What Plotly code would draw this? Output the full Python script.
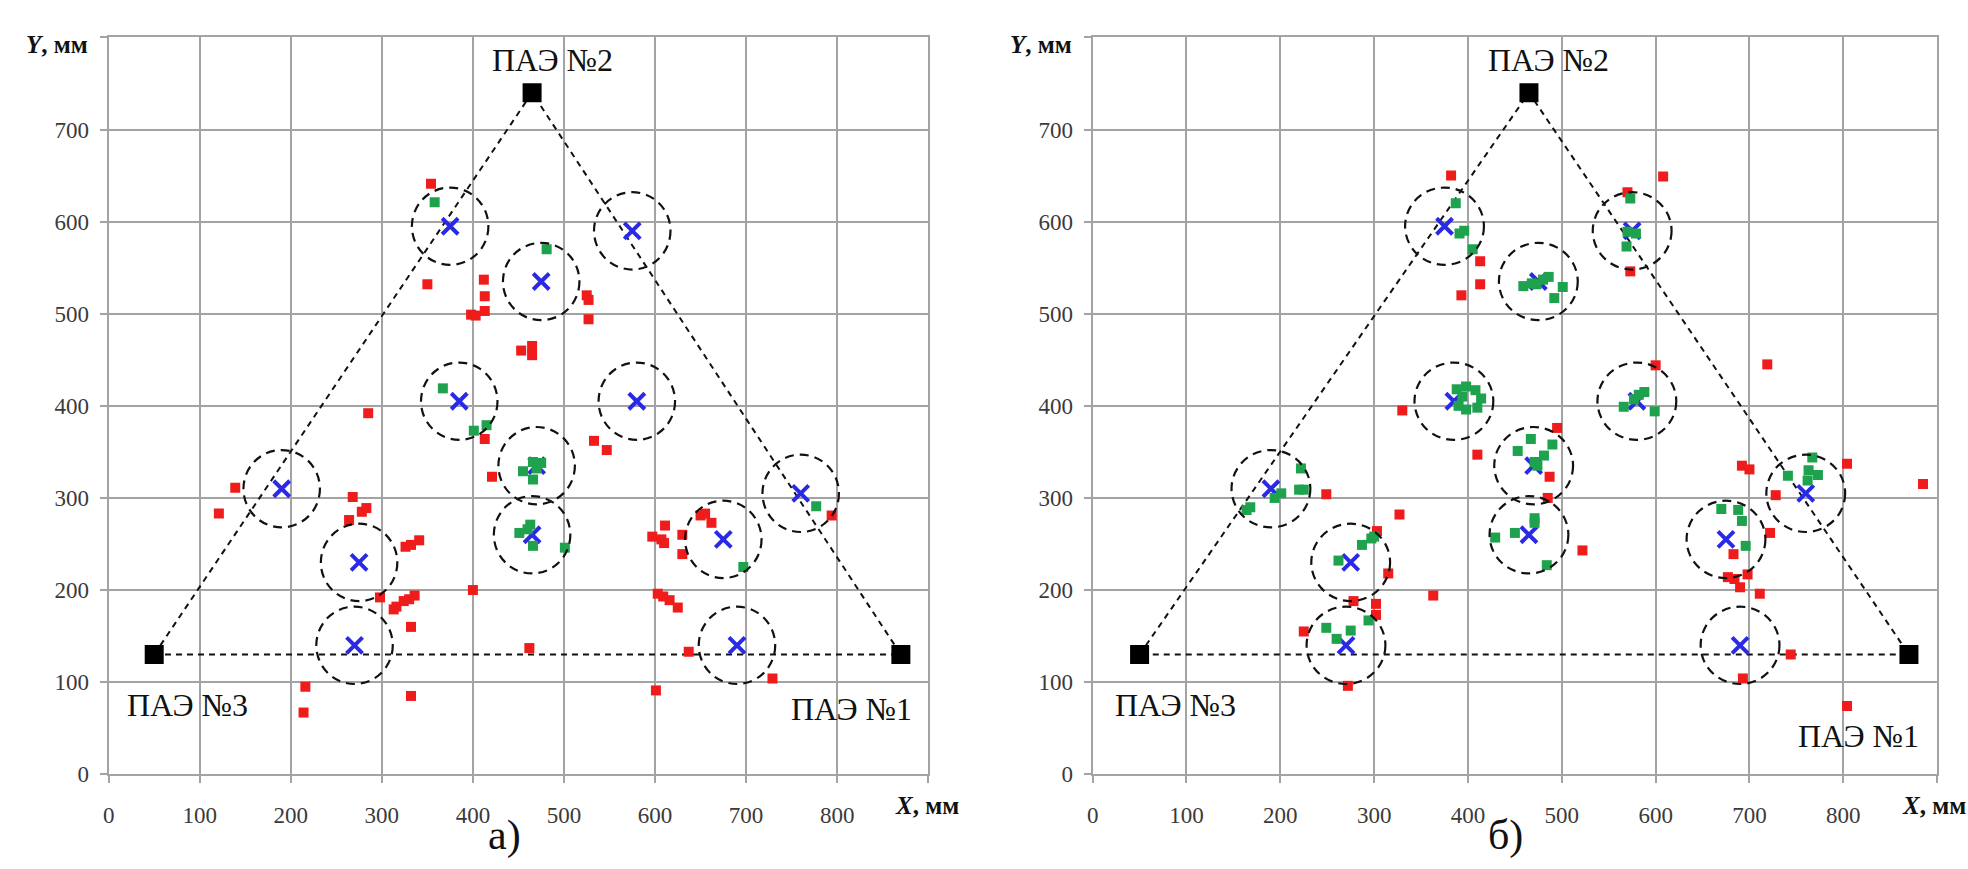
import plotly.graph_objects as go

# ---------------- data ----------------
sensor_x = [870, 465, 50]
sensor_y = [130, 740, 130]
sensor_names = ["ПАЭ №1", "ПАЭ №2", "ПАЭ №3"]

source_x = [375, 475, 575, 385, 580, 190, 275, 270, 470, 465, 675, 760, 690]
source_y = [595, 535, 590, 405, 405, 310, 230, 140, 335, 260, 255, 305, 140]

a_red_x = [354, 350, 412, 413, 398, 403, 413, 285, 413, 525, 527, 527, 453, 465, 465, 533, 547,
           421, 139, 121, 268, 278, 283, 264, 326, 332, 341, 400, 298, 313, 316, 324, 330, 336,
           332, 216, 214, 332, 462, 611, 597, 607, 610, 630, 630, 650, 655, 662, 794, 603, 609,
           616, 625, 637, 601, 729]
a_red_y = [641, 532, 537, 519, 499, 498, 503, 392, 364, 520, 515, 494, 460, 465, 455, 362, 352,
           323, 311, 283, 301, 285, 289, 276, 247, 249, 254, 200, 192, 179, 182, 188, 190, 194,
           160, 95, 67, 85, 137, 270, 258, 255, 251, 260, 239, 281, 283, 273, 281, 196, 193,
           189, 181, 133, 91, 104]
a_green_x = [358, 481, 367, 401, 415, 455, 466, 475, 466, 470, 451, 463, 466, 460, 501, 697, 777]
a_green_y = [621, 570, 419, 373, 379, 329, 339, 338, 320, 332, 262, 271, 248, 266, 246, 225, 291]

b_red_x = [382, 413, 413, 393, 330, 608, 570, 573, 600, 719, 495, 410, 249, 327, 303, 315, 363,
           278, 302, 302, 225, 272, 487, 485, 522, 692, 700, 683, 722, 728, 677, 684, 690, 698,
           711, 804, 885, 744, 693, 804]
b_red_y = [650, 557, 532, 520, 395, 649, 632, 546, 444, 445, 376, 347, 304, 282, 264, 218, 194,
           188, 185, 173, 155, 96, 323, 300, 243, 335, 331, 239, 262, 303, 214, 212, 203, 217,
           196, 337, 315, 130, 104, 74]
b_green_x = [387, 391, 396, 405, 388, 398, 408, 414, 410, 398, 390, 394, 459, 473, 480, 486, 501,
             492, 468, 573, 570, 579, 569, 566, 577, 588, 599, 582, 164, 168, 194, 201, 220, 225,
             222, 262, 287, 297, 300, 294, 249, 275, 260, 467, 453, 490, 481, 471, 474, 471, 471,
             450, 429, 484, 670, 688, 692, 696, 741, 767, 763, 773, 762]
b_green_y = [620, 587, 590, 570, 418, 421, 417, 408, 398, 396, 400, 410, 530, 532, 537, 540, 529,
             517, 533, 625, 589, 587, 573, 399, 407, 415, 394, 412, 287, 290, 300, 305, 309, 309,
             332, 232, 249, 256, 258, 167, 159, 156, 147, 364, 351, 358, 346, 339, 335, 278, 273,
             262, 257, 227, 288, 287, 275, 248, 324, 344, 330, 325, 319]

x_ticks = [0, 100, 200, 300, 400, 500, 600, 700, 800]
y_ticks = [0, 100, 200, 300, 400, 500, 600, 700]
panel_labels = ["а)", "б)"]

# ---------------- style ----------------
FONT = "Liberation Serif"
GRID = "#a3a3a3"
RED = "#f01c1c"
GREEN = "#1fa24e"
BLUE = "#2a2ae6"
R = 42  # circle radius, mm

W, H = 1968, 869
domains_x = [[103 / W, 925 / W], [1090 / W, 1937 / W]]
dom_y = [(H - 786) / H, (H - 38) / H]

lbl_pos = [
    [(816, 71), (487, 775), (87, 75)],
    [(816, 42), (486, 775), (88, 75)],
]

fig = go.Figure()
shapes = []
annotations = []

panels = [(a_red_x, a_red_y, a_green_x, a_green_y), (b_red_x, b_red_y, b_green_x, b_green_y)]
for i, (rx, ry, gx, gy) in enumerate(panels):
    xa = "x" if i == 0 else "x2"
    ya = "y" if i == 0 else "y2"
    order = [2, 1, 0, 2]
    fig.add_trace(go.Scatter(
        x=[sensor_x[k] for k in order], y=[sensor_y[k] for k in order],
        mode="lines", line=dict(color="#111111", width=2, dash="6px,5px"),
        xaxis=xa, yaxis=ya, showlegend=False, hoverinfo="skip"))
    fig.add_trace(go.Scatter(
        x=source_x, y=source_y, mode="markers",
        marker=dict(symbol="x-thin", size=16, line=dict(color=BLUE, width=4), color=BLUE),
        xaxis=xa, yaxis=ya, showlegend=False))
    fig.add_trace(go.Scatter(
        x=rx, y=ry, mode="markers",
        marker=dict(symbol="square", size=10, color=RED),
        xaxis=xa, yaxis=ya, showlegend=False))
    fig.add_trace(go.Scatter(
        x=gx, y=gy, mode="markers",
        marker=dict(symbol="square", size=10, color=GREEN),
        xaxis=xa, yaxis=ya, showlegend=False))
    fig.add_trace(go.Scatter(
        x=sensor_x, y=sensor_y, mode="markers",
        marker=dict(symbol="square", size=19, color="black"),
        xaxis=xa, yaxis=ya, showlegend=False))
    for sx, sy in zip(source_x, source_y):
        shapes.append(dict(type="circle", xref=xa, yref=ya,
                           x0=sx - R, x1=sx + R, y0=sy - R, y1=sy + R,
                           line=dict(color="#111111", width=2.2, dash="9px,6px"), layer="above"))
    for name, (lx, ly) in zip(sensor_names, lbl_pos[i]):
        annotations.append(dict(x=lx, y=ly, xref=xa, yref=ya, text=name, showarrow=False,
                                font=dict(family=FONT, size=32, color="#111111"),
                                xanchor="center", yanchor="middle"))

ylab_right = [84 / W, 1071 / W]
xlab_right = [958 / W, 1968 / W]
panel_lab_x = [500 / W, 1504 / W]
for i in range(2):
    annotations.append(dict(x=ylab_right[i], y=(H - 45) / H, xref="paper", yref="paper",
                            text="<b><i>Y</i>, мм</b>", showarrow=False,
                            font=dict(family=FONT, size=25, color="#111111"),
                            xanchor="right", yanchor="middle"))
    annotations.append(dict(x=xlab_right[i], y=(H - 818) / H, xref="paper", yref="paper",
                            text="<b><i>X</i>, мм</b>", showarrow=False,
                            font=dict(family=FONT, size=25, color="#111111"),
                            xanchor="right", yanchor="middle"))
    annotations.append(dict(x=panel_lab_x[i], y=0, xref="paper", yref="paper",
                            text=panel_labels[i], showarrow=False,
                            font=dict(family=FONT, size=42, color="#111111"),
                            xanchor="center", yanchor="bottom", yshift=-5))

axis_common = dict(showgrid=True, gridcolor=GRID, gridwidth=2, showline=True, linecolor=GRID,
                   linewidth=2, mirror=True, zeroline=False, ticks="outside", ticklen=7,
                   tickcolor=GRID, tickwidth=2,
                   tickfont=dict(family=FONT, size=23, color="#3a3a3a"), fixedrange=True)

layout = dict(
    width=W, height=H, margin=dict(l=0, r=0, t=0, b=0),
    paper_bgcolor="white", plot_bgcolor="white",
    shapes=shapes, annotations=annotations, showlegend=False,
)
for i in range(2):
    sx = "xaxis" if i == 0 else "xaxis2"
    sy = "yaxis" if i == 0 else "yaxis2"
    layout[sx] = dict(axis_common, domain=domains_x[i], range=[0, 900],
                      tickvals=x_ticks + [900], ticktext=[str(v) for v in x_ticks] + [""],
                      anchor="y" if i == 0 else "y2", ticklabelstandoff=12)
    layout[sy] = dict(axis_common, domain=dom_y, range=[0, 800],
                      tickvals=y_ticks + [800], ticktext=[str(v) for v in y_ticks] + [""],
                      anchor="x" if i == 0 else "x2", ticklabelstandoff=6)

fig.update_layout(**layout)
fig.write_html("out.html")
